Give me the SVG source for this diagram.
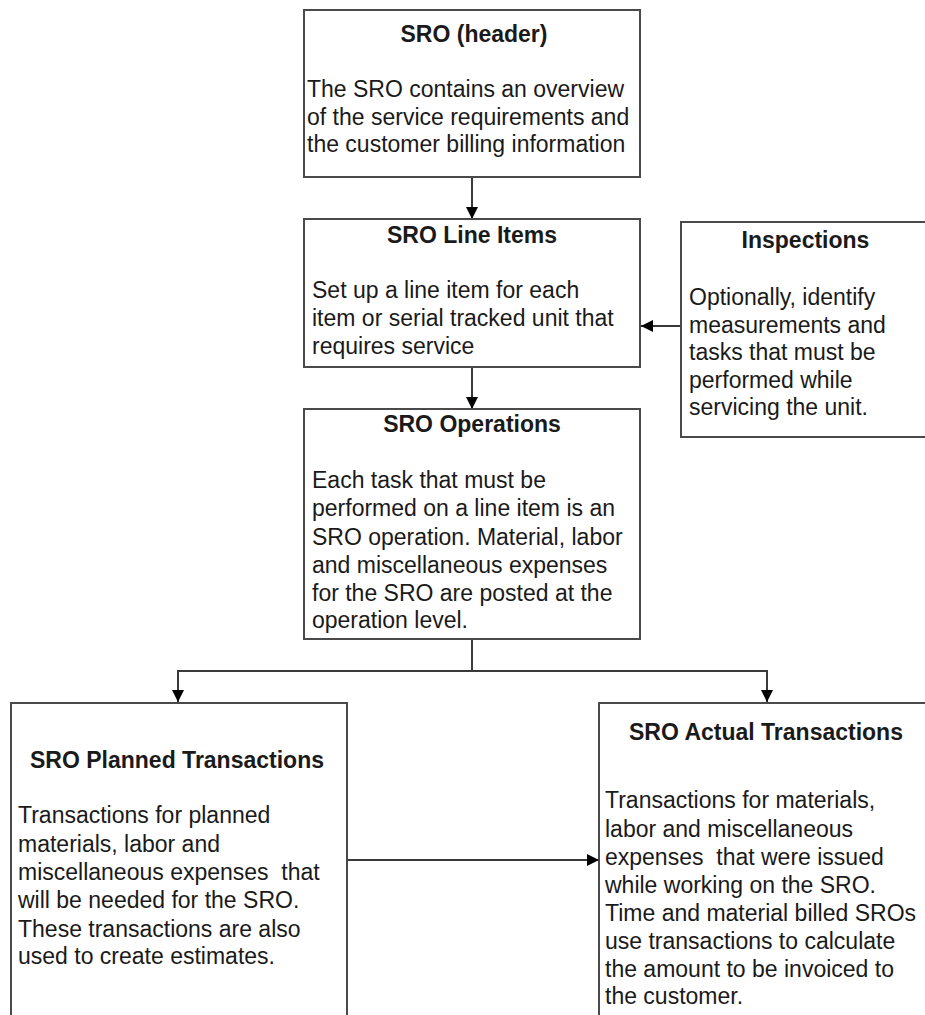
<svg xmlns="http://www.w3.org/2000/svg" width="925" height="1015" viewBox="0 0 925 1015">
<style>
.box{fill:#fff;stroke:#4a4a4a;stroke-width:2}
.t{font-family:"Liberation Sans",Arial,sans-serif;font-size:23px;font-weight:bold;fill:#1a1a1a;text-anchor:middle}
.b{font-family:"Liberation Sans",Arial,sans-serif;font-size:23px;fill:#1a1a1a;white-space:pre}
.c{fill:none;stroke:#3a3a3a;stroke-width:2}
</style>
<defs>
<marker id="ah" markerWidth="12" markerHeight="12" refX="12" refY="6" orient="auto" markerUnits="userSpaceOnUse">
<path d="M0,0 L12,6 L0,12 Z" fill="#000"/>
</marker>
</defs>
<rect width="925" height="1015" fill="#fff"/>
<g id="connectors">
<line class="c" x1="472" y1="177" x2="472" y2="219" marker-end="url(#ah)"/>
<line class="c" x1="472" y1="367" x2="472" y2="409" marker-end="url(#ah)"/>
<line class="c" x1="681" y1="326" x2="641" y2="326" marker-end="url(#ah)"/>
<path class="c" d="M472,639 V671 H178 V702" marker-end="url(#ah)"/>
<path class="c" d="M472,671 H767 V702" marker-end="url(#ah)"/>
<line class="c" x1="347" y1="860" x2="599" y2="860" marker-end="url(#ah)"/>
</g>
<g id="header">
<rect class="box" x="304" y="10" width="336" height="167"/>
<text class="t" x="474" y="42">SRO (header)</text>
<text class="b" x="307" y="97">The SRO contains an overview</text>
<text class="b" x="307" y="124.5">of the service requirements and</text>
<text class="b" x="307" y="152">the customer billing information</text>
</g>
<g id="lineitems">
<rect class="box" x="304" y="219" width="336" height="148"/>
<text class="t" x="472" y="243">SRO Line Items</text>
<text class="b" x="312" y="298">Set up a line item for each</text>
<text class="b" x="312" y="326">item or serial tracked unit that</text>
<text class="b" x="312" y="354">requires service</text>
</g>
<g id="inspections">
<rect class="box" x="681" y="222" width="260" height="215"/>
<text class="t" x="805.5" y="248">Inspections</text>
<text class="b" x="689" y="305">Optionally, identify</text>
<text class="b" x="689" y="332.5">measurements and</text>
<text class="b" x="689" y="360">tasks that must be</text>
<text class="b" x="689" y="387.5">performed while</text>
<text class="b" x="689" y="415">servicing the unit.</text>
</g>
<g id="operations">
<rect class="box" x="304" y="409" width="336" height="230"/>
<text class="t" x="472" y="432">SRO Operations</text>
<text class="b" x="312" y="488">Each task that must be</text>
<text class="b" x="312" y="516">performed on a line item is an</text>
<text class="b" x="312" y="544.5">SRO operation. Material, labor</text>
<text class="b" x="312" y="572.5">and miscellaneous expenses</text>
<text class="b" x="312" y="600.5">for the SRO are posted at the</text>
<text class="b" x="312" y="628">operation level.</text>
</g>
<g id="planned">
<rect class="box" x="11" y="703" width="336" height="330"/>
<text class="t" x="177" y="768">SRO Planned Transactions</text>
<text class="b" x="18" y="823">Transactions for planned</text>
<text class="b" x="18" y="851.5">materials, labor and</text>
<text class="b" x="18" y="880" xml:space="preserve">miscellaneous expenses  that</text>
<text class="b" x="18" y="908">will be needed for the SRO.</text>
<text class="b" x="18" y="936.5">These transactions are also</text>
<text class="b" x="18" y="964">used to create estimates.</text>
</g>
<g id="actual">
<rect class="box" x="599" y="703" width="336" height="330"/>
<text class="t" x="766" y="740">SRO Actual Transactions</text>
<text class="b" x="605" y="808">Transactions for materials,</text>
<text class="b" x="605" y="836.5">labor and miscellaneous</text>
<text class="b" x="605" y="864.5" xml:space="preserve">expenses  that were issued</text>
<text class="b" x="605" y="892.5">while working on the SRO.</text>
<text class="b" x="605" y="920.5">Time and material billed SROs</text>
<text class="b" x="605" y="948.5">use transactions to calculate</text>
<text class="b" x="605" y="976.5">the amount to be invoiced to</text>
<text class="b" x="605" y="1003.5">the customer.</text>
</g>
</svg>
